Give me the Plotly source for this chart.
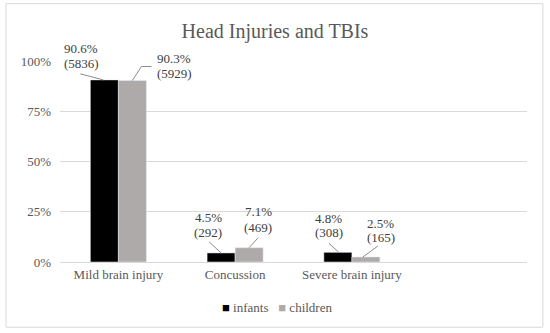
import plotly.graph_objects as go

categories = ["Mild brain injury", "Concussion", "Severe brain injury"]
infants_pct = [90.6, 4.5, 4.8]
children_pct = [90.3, 7.1, 2.5]
infants_n = [5836, 292, 308]
children_n = [5929, 469, 165]
y_ticks = [0, 25, 50, 75, 100]
series_names = ["infants", "children"]
series_colors = ["#000000", "#aeaaaa"]

FONT = "Liberation Serif, Times New Roman, serif"
GRAY_TXT = "#595959"
LABEL_TXT = "#404040"
LEADER = "#8c8c8c"
GRID = "#d9d9d9"

fig = go.Figure()
fig.add_trace(go.Bar(name=series_names[0], x=categories, y=infants_pct, marker_color=series_colors[0]))
fig.add_trace(go.Bar(name=series_names[1], x=categories, y=children_pct, marker_color=series_colors[1]))

# data-label layout in pixels, relative to (category centre, bar top); y positive = up
# (leader-line points from the bar tip outward, text x, text y of first line, text y of second line)
inf_layout = [
    ([(-15, 0), (-38, 6)], -37, 31, 16),
    ([(-14, 0), (-26, 11)], -27, 35, 20),
    ([(-13, 0), (-23, 9)], -23, 34, 20),
]
ch_layout = [
    ([(14, 0), (23, 14), (33, 14)], 56, 22, 7),
    ([(14, 0), (23, 10)], 23, 36, 20),
    ([(11, 0), (26, 11)], 29, 33, 19),
]

for i, c in enumerate(categories):
    for vals, ns, lay in ((infants_pct, infants_n, inf_layout), (children_pct, children_n, ch_layout)):
        pts, tx, ty1, ty2 = lay[i]
        path = "M " + " L ".join(f"{px},{py}" for px, py in pts)
        fig.add_shape(type="path", path=path, xref="x", yref="y",
                      xsizemode="pixel", ysizemode="pixel", xanchor=i, yanchor=vals[i],
                      line=dict(color=LEADER, width=1))
        for txt, ty in ((f"{vals[i]}%", ty1), (f"({ns[i]})", ty2)):
            fig.add_annotation(x=c, y=vals[i], xshift=tx, yshift=ty, text=txt,
                               showarrow=False, xanchor="center", yanchor="middle",
                               font=dict(family=FONT, size=13, color=LABEL_TXT))

# compact legend (Excel-like)
legend_text = "   ".join(
    f"<span style='color:{col}'>■</span> {name}" for name, col in zip(series_names, series_colors)
)
fig.add_annotation(xref="paper", yref="paper", x=0.465, y=-0.224, xanchor="center", yanchor="middle",
                   text=legend_text, showarrow=False,
                   font=dict(family=FONT, size=13, color=GRAY_TXT))

fig.add_shape(type="rect", xref="paper", yref="paper",
              x0=-0.1156, x1=1.034, y0=-0.323, y1=1.279,
              line=dict(color=GRID, width=1), layer="below")

fig.update_layout(
    width=550, height=333,
    margin=dict(l=60, r=23, t=60, b=71, autoexpand=False),
    paper_bgcolor="white", plot_bgcolor="white",
    barmode="group", bargap=0.52, bargroupgap=0,
    title=dict(text="Head Injuries and TBIs", x=0.5, xanchor="center",
               y=1 - 31 / 333, yanchor="middle",
               font=dict(family=FONT, size=20, color=GRAY_TXT)),
    font=dict(family=FONT, size=13, color=GRAY_TXT),
    showlegend=False,
    xaxis=dict(type="category", categoryorder="array", categoryarray=categories,
               range=[-0.5, 3.5], showgrid=False, showline=True, linecolor=GRID,
               ticks="", automargin=False, tickfont=dict(family=FONT, size=13, color=GRAY_TXT)),
    yaxis=dict(range=[0, 100.5], tickvals=y_ticks, ticktext=[f"{v}%" for v in y_ticks],
               showgrid=True, gridcolor=GRID, zeroline=False, ticks="", automargin=False,
               tickfont=dict(family=FONT, size=13, color=GRAY_TXT), ticklabelstandoff=8),
)

fig.write_html("out.html", config={"displayModeBar": False},
               post_script="document.body.style.margin='0';")
